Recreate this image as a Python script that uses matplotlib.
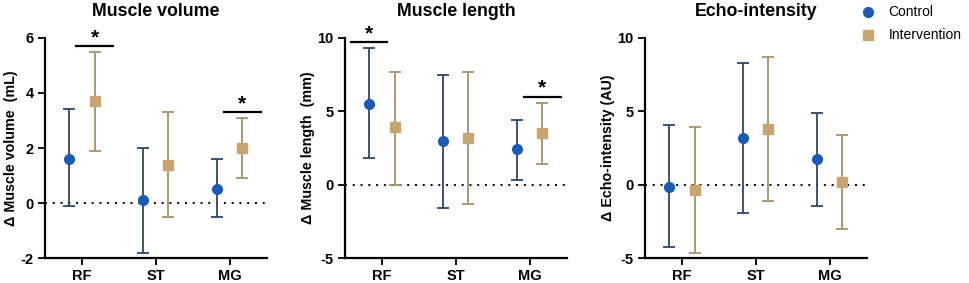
"""Change in muscle volume, length and echo-intensity by muscle and group."""

import numpy as np
import matplotlib
matplotlib.use("Agg")
import matplotlib.pyplot as plt

plt.rcParams["font.family"] = ["Liberation Sans", "DejaVu Sans"]
plt.rcParams["axes.unicode_minus"] = False

MUSCLES = ["RF", "ST", "MG"]

# mean, lower, upper
VOL_CTRL = [1.6, 0.1, 0.5]
VOL_CTRL_LO = [-0.1, -1.8, -0.5]
VOL_CTRL_HI = [3.4, 2.0, 1.6]
VOL_INT = [3.7, 1.4, 2.0]
VOL_INT_LO = [1.9, -0.5, 0.9]
VOL_INT_HI = [5.5, 3.3, 3.1]

LEN_CTRL = [5.5, 3.0, 2.4]
LEN_CTRL_LO = [1.8, -1.6, 0.3]
LEN_CTRL_HI = [9.3, 7.5, 4.4]
LEN_INT = [3.9, 3.2, 3.5]
LEN_INT_LO = [0.0, -1.3, 1.4]
LEN_INT_HI = [7.7, 7.7, 5.6]

ECHO_CTRL = [-0.15, 3.15, 1.75]
ECHO_CTRL_LO = [-4.25, -1.9, -1.45]
ECHO_CTRL_HI = [4.05, 8.3, 4.9]
ECHO_INT = [-0.35, 3.8, 0.2]
ECHO_INT_LO = [-4.65, -1.1, -3.05]
ECHO_INT_HI = [3.9, 8.7, 3.4]

# (muscle index, group: -1 control / +1 intervention, bar y)
VOL_SIG = [(0, 1, 5.7), (2, 1, 3.3)]
LEN_SIG = [(0, -1, 9.7), (2, 1, 6.0)]
ECHO_SIG = []

CTRL_MARK = "#1a5bb5"
CTRL_ERR = "#2c4670"
INT_MARK = "#c8a46e"
INT_ERR = "#a8916a"

OFF = 0.17

panels = [
    ("Muscle volume", "Δ Muscle volume  (mL)", (-2, 6), [-2, 0, 2, 4, 6],
     (VOL_CTRL, VOL_CTRL_LO, VOL_CTRL_HI), (VOL_INT, VOL_INT_LO, VOL_INT_HI), VOL_SIG),
    ("Muscle length", "Δ Muscle length  (mm)", (-5, 10), [-5, 0, 5, 10],
     (LEN_CTRL, LEN_CTRL_LO, LEN_CTRL_HI), (LEN_INT, LEN_INT_LO, LEN_INT_HI), LEN_SIG),
    ("Echo-intensity", "Δ Echo-intensity (AU)", (-5, 10), [-5, 0, 5, 10],
     (ECHO_CTRL, ECHO_CTRL_LO, ECHO_CTRL_HI), (ECHO_INT, ECHO_INT_LO, ECHO_INT_HI), ECHO_SIG),
]

fig = plt.figure(figsize=(9.69, 2.83), dpi=100)
lefts = [0.0464, 0.356, 0.6656]
x = np.arange(len(MUSCLES))

for left, (title, ylabel, ylim, yticks, ctrl, inter, sig) in zip(lefts, panels):
    ax = fig.add_axes([left, 0.088, 0.229, 0.778])
    for (m, lo, hi), dx, mc, ec, mk, name in [
        (ctrl, -OFF, CTRL_MARK, CTRL_ERR, "o", "Control"),
        (inter, OFF, INT_MARK, INT_ERR, "s", "Intervention"),
    ]:
        m, lo, hi = np.array(m), np.array(lo), np.array(hi)
        ax.errorbar(x + dx, m, yerr=[m - lo, hi - m], fmt="none", ecolor=ec,
                    elinewidth=1.3, capsize=4, capthick=1.3, zorder=2)
        ax.plot(x + dx, m, mk, color=mc, markersize=7, zorder=3, label=name)
    ax.axhline(0, color="black", linestyle=(0, (1, 3)), linewidth=1.4, zorder=1)
    span = ylim[1] - ylim[0]
    for i, g, yb in sig:
        cx = i + g * OFF
        ax.plot([cx - 0.245, cx + 0.245], [yb, yb], color="black", linewidth=1.6,
                clip_on=False)
        ax.text(cx, yb - span * 0.005, "*", ha="center", va="bottom",
                fontsize=15, fontweight="bold", clip_on=False)
    ax.set_xlim(-0.5, 2.5)
    ax.set_ylim(*ylim)
    ax.set_yticks(yticks)
    ax.set_xticks(x)
    ax.set_xticklabels(MUSCLES)
    ax.tick_params(labelsize=10.5, width=1.3, length=5, color="black", pad=3)
    for lbl in ax.get_xticklabels() + ax.get_yticklabels():
        lbl.set_fontweight("bold")
    ax.spines["top"].set_visible(False)
    ax.spines["right"].set_visible(False)
    ax.spines["left"].set_linewidth(1.6)
    ax.spines["bottom"].set_linewidth(1.6)
    ax.set_title(title, fontsize=12.8, fontweight="bold", pad=16)
    ax.set_ylabel(ylabel, fontsize=10.3, fontweight="bold", labelpad=2)

handles, labels = ax.get_legend_handles_labels()
fig.legend(handles, labels, loc="upper left", bbox_to_anchor=(0.874, 1.025),
           frameon=False, handletextpad=0.9, labelspacing=0.65,
           handlelength=1.2, prop={"weight": "normal", "size": 10})

fig.savefig("out.png", dpi=100)
